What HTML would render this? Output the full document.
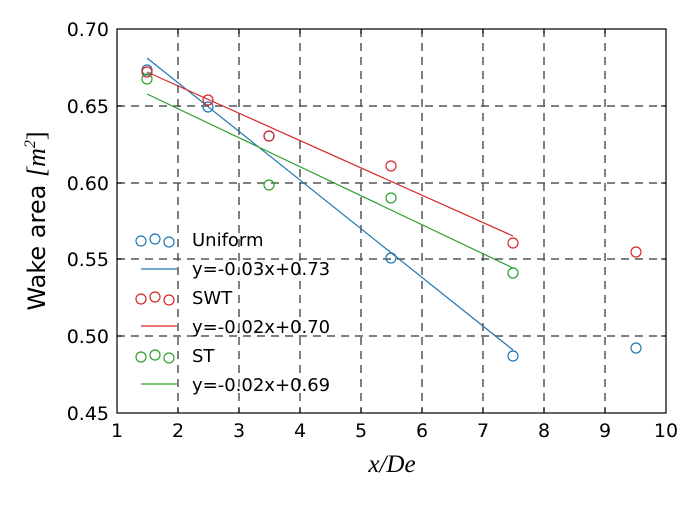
<!DOCTYPE html><html><head><style>body{margin:0;background:#fff}svg text{font-family:"DejaVu Sans","Liberation Sans",sans-serif}</style></head><body>
<svg width="700" height="500" viewBox="0 0 700 500" xmlns="http://www.w3.org/2000/svg">
<rect width="700" height="500" fill="#fff"/>
<g stroke="#555" stroke-width="1.5" stroke-dasharray="8,6" fill="none">
<path d="M178 29V413M239 29V413M300 29V413M361 29V413M422 29V413M483 29V413M544 29V413M605 29V413"/>
<path d="M117 106H666M117 183H666M117 259H666M117 336H666"/>
</g>
<g fill="none" stroke-width="1.2">
<line x1="147" y1="58" x2="513" y2="350" stroke="#1f77b4"/>
<line x1="147" y1="72" x2="513" y2="236" stroke="#d62728"/>
<line x1="147" y1="94" x2="513" y2="268" stroke="#2ca02c"/>
<g stroke="#1f77b4"><circle cx="147" cy="70" r="5"/><circle cx="208" cy="107" r="5"/><circle cx="269" cy="136" r="5"/><circle cx="391" cy="258" r="5"/><circle cx="513" cy="356" r="5"/><circle cx="636" cy="348" r="5"/></g>
<g stroke="#d62728"><circle cx="147" cy="72" r="5"/><circle cx="208" cy="100" r="5"/><circle cx="269" cy="136" r="5"/><circle cx="391" cy="166" r="5"/><circle cx="513" cy="243" r="5"/><circle cx="636" cy="252" r="5"/></g>
<g stroke="#2ca02c"><circle cx="147" cy="79" r="5"/><circle cx="269" cy="185" r="5"/><circle cx="391" cy="198" r="5"/><circle cx="513" cy="273" r="5"/></g>
<g stroke="#1f77b4"><circle cx="141" cy="241" r="5"/><circle cx="155" cy="239" r="5"/><circle cx="169" cy="242" r="5"/><line x1="141" y1="269" x2="177" y2="269"/></g>
<g stroke="#d62728"><circle cx="141" cy="299" r="5"/><circle cx="155" cy="297" r="5"/><circle cx="169" cy="300" r="5"/><line x1="141" y1="326" x2="177" y2="326"/></g>
<g stroke="#2ca02c"><circle cx="141" cy="357" r="5"/><circle cx="155" cy="355" r="5"/><circle cx="169" cy="358" r="5"/><line x1="141" y1="384" x2="177" y2="384"/></g>
</g>
<g font-size="18" fill="#000">
<text x="192" y="246">Uniform</text><text x="192" y="275">y=-0.03x+0.73</text>
<text x="192" y="304">SWT</text><text x="192" y="333">y=-0.02x+0.70</text>
<text x="192" y="362">ST</text><text x="192" y="391">y=-0.02x+0.69</text>
</g>
<rect x="117" y="29" width="549" height="384" fill="none" stroke="#000" stroke-width="1.2"/>
<g stroke="#000" stroke-width="1">
<path d="M178 413v-5M239 413v-5M300 413v-5M361 413v-5M422 413v-5M483 413v-5M544 413v-5M605 413v-5M178 29v5M239 29v5M300 29v5M361 29v5M422 29v5M483 29v5M544 29v5M605 29v5"/>
<path d="M117 106h5M117 183h5M117 259h5M117 336h5M666 106h-5M666 183h-5M666 259h-5M666 336h-5"/>
</g>
<g font-size="19" fill="#000" text-anchor="middle">
<text x="117" y="437">1</text><text x="178" y="437">2</text><text x="239" y="437">3</text><text x="300" y="437">4</text><text x="361" y="437">5</text><text x="422" y="437">6</text><text x="483" y="437">7</text><text x="544" y="437">8</text><text x="605" y="437">9</text><text x="666" y="437">10</text>
</g>
<g font-size="19" fill="#000" text-anchor="end">
<text x="109" y="36">0.70</text><text x="109" y="113">0.65</text><text x="109" y="190">0.60</text><text x="109" y="266">0.55</text><text x="109" y="343">0.50</text><text x="109" y="420">0.45</text>
</g>
<text x="392" y="472" text-anchor="middle" style="font-family:'Liberation Serif',serif;font-style:italic;font-size:25px">x/De</text>
<text transform="translate(45 221) rotate(-90)" font-size="24" text-anchor="middle">Wake  area <tspan style="font-family:'Liberation Serif',serif;font-style:italic;font-size:26px">[m</tspan><tspan style="font-family:'Liberation Serif',serif;font-style:italic;font-size:16px" dy="-10">2</tspan><tspan style="font-family:'Liberation Serif',serif;font-size:26px" dy="10">]</tspan></text>
</svg></body></html>
